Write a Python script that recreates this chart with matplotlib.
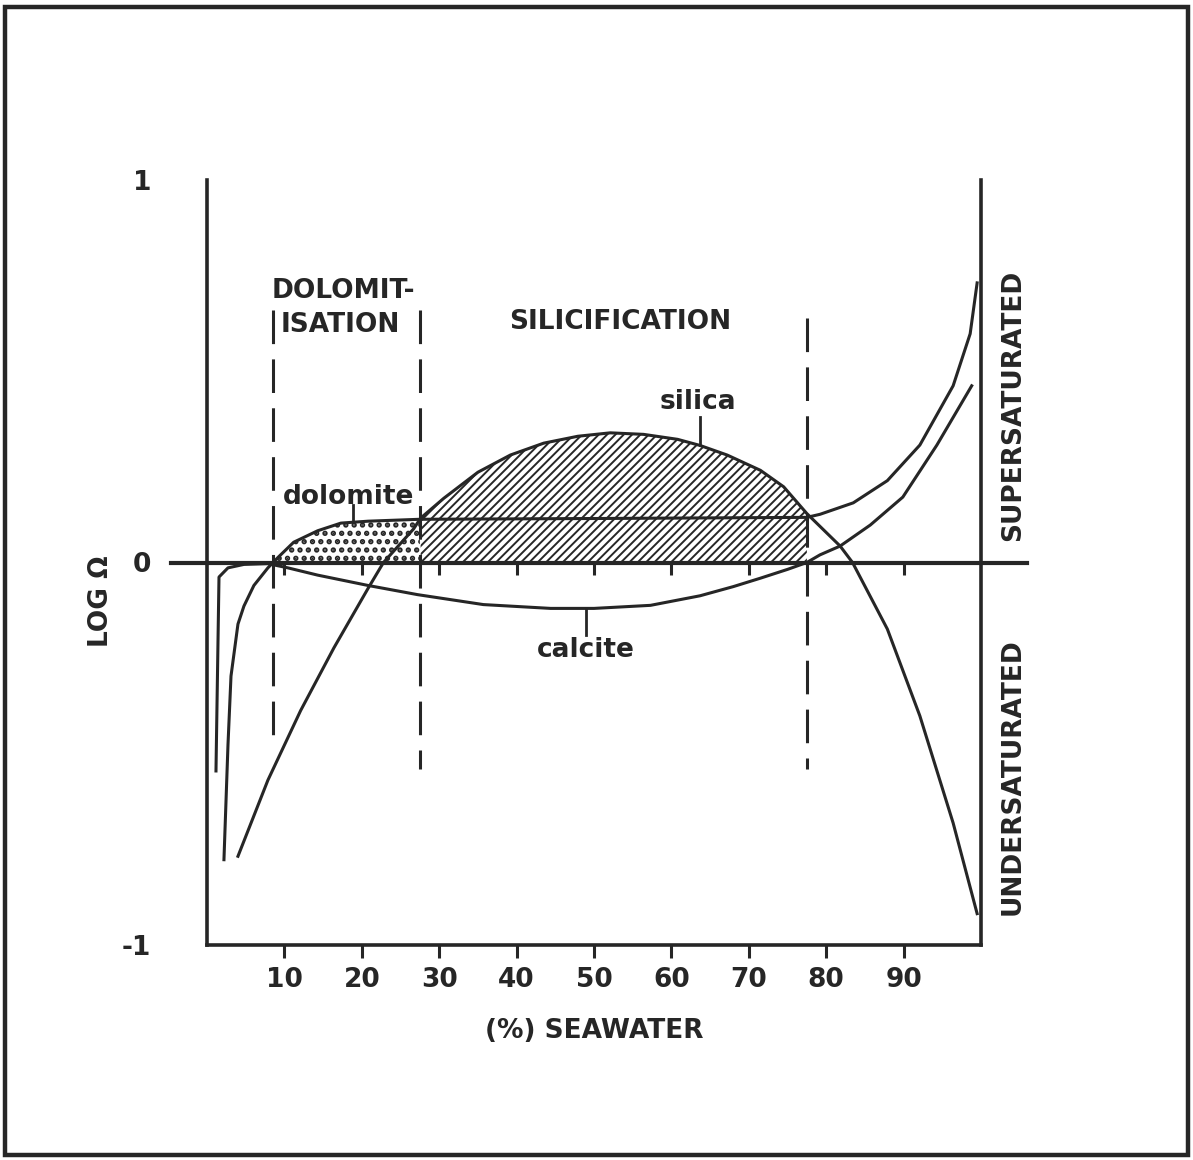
import matplotlib
matplotlib.use("Agg")
import matplotlib.pyplot as plt
from matplotlib.patches import Rectangle
import numpy as np

# values: % seawater vs log omega
calcite_x = [1.16, 1.55, 2.71, 4.77, 7.87, 10.45, 14.3, 20.8, 27.2, 35.7, 44.4, 50.0, 57.3, 63.7,
             68.0, 71.5, 75.0, 77.5, 79.2, 81.8, 85.7, 89.9, 94.3, 98.8]
calcite_y = [-0.545, -0.038, -0.014, -0.005, -0.003, -0.014, -0.033, -0.06, -0.084, -0.11, -0.12,
             -0.12, -0.112, -0.087, -0.063, -0.041, -0.018, 0.0, 0.02, 0.043, 0.098, 0.171, 0.307, 0.462]

dolomite_x = [2.19, 2.71, 3.1, 4.0, 4.77, 6.06, 7.87, 9.16, 11.2, 14.3, 17.3, 20.8, 27.5, 50.0,
              77.5, 79.2, 83.5, 87.9, 92.1, 96.4, 98.6, 99.5]
dolomite_y = [-0.777, -0.477, -0.297, -0.161, -0.114, -0.06, -0.014, 0.013, 0.053, 0.083, 0.103,
              0.108, 0.113, 0.115, 0.118, 0.126, 0.156, 0.214, 0.307, 0.462, 0.598, 0.731]

silica_x = [4.0, 7.87, 12.1, 16.4, 20.8, 22.8, 26.7, 27.6, 30.6, 35.0, 39.2, 43.5, 47.9, 52.1,
            56.4, 60.8, 63.7, 67.2, 71.5, 74.5, 77.5, 81.8, 83.4, 87.9, 92.1, 96.4, 99.5]
silica_y = [-0.768, -0.569, -0.387, -0.223, -0.068, 0.0, 0.088, 0.116, 0.168, 0.236, 0.281, 0.312,
            0.330, 0.339, 0.335, 0.322, 0.306, 0.281, 0.241, 0.198, 0.128, 0.043, 0.0, -0.174,
            -0.401, -0.681, -0.918]

zone_bounds = [8.5, 27.5, 77.5]
x_ticks = [10, 20, 30, 40, 50, 60, 70, 80, 90]

ink = "#262626"
plt.rcParams['font.family'] = ['DejaVu Sans']
plt.rcParams['hatch.linewidth'] = 1.4

fig = plt.figure(figsize=(11.93, 11.60), dpi=100)
ax = fig.add_axes([207/1193, 215/1160, 774/1193, 765/1160])
ax.set_xlim(0, 100)
ax.set_ylim(-1, 1)

# outer frame
fig.patches.append(Rectangle((5/1193, 5/1160), 1183/1193, 1148/1160, transform=fig.transFigure,
                             fill=False, lw=3.2, ec=ink))

# shaded zones: dolomitisation (dots) and silicification (hatch)
dx = np.array(dolomite_x)
dy = np.array(dolomite_y)
m = (dx >= 7.87) & (dx <= 27.5)
dots = ax.fill_between(dx[m], 0, dy[m], where=dy[m] >= 0, interpolate=True, facecolor="white",
                       edgecolor=ink, hatch="..", linewidth=0)
if hasattr(dots, "set_hatch_linewidth"):
    dots.set_hatch_linewidth(2.6)
sx = np.array(silica_x)
sy = np.array(silica_y)
m = (sx >= 27.6) & (sx <= 77.5)
ax.fill_between(sx[m], 0, sy[m], facecolor="white", edgecolor=ink, hatch="////", linewidth=0)

# curves
ax.plot(calcite_x, calcite_y, color=ink, lw=2.2)
ax.plot(dolomite_x, dolomite_y, color=ink, lw=2.2)
ax.plot(silica_x, silica_y, color=ink, lw=2.2)

# zero line with its own small ticks
ax.plot([-4.6, 106], [0, 0], color=ink, lw=3, clip_on=False)
ax.vlines(x_ticks, -0.032, 0, color=ink, lw=2.2)

# dashed zone boundaries
ax.plot([zone_bounds[0]] * 2, [0.66, -0.47], color=ink, lw=2.2, dashes=(11, 5))
ax.plot([zone_bounds[1]] * 2, [0.66, -0.54], color=ink, lw=2.2, dashes=(11, 5))
ax.plot([zone_bounds[2]] * 2, [0.64, -0.54], color=ink, lw=2.2, dashes=(11, 5))

# leader lines for labels
ax.plot([63.7, 63.7], [0.38, 0.306], color=ink, lw=2)
ax.plot([18.8, 18.8], [0.15, 0.105], color=ink, lw=2)
ax.plot([49.0, 49.0], [-0.12, -0.19], color=ink, lw=2)

fs = 19
kw = dict(fontsize=fs, fontweight="bold", color=ink, va="center")
ax.text(8.3, 0.71, "DOLOMIT-", ha="left", **kw)
ax.text(9.5, 0.62, "ISATION", ha="left", **kw)
ax.text(53.4, 0.63, "SILICIFICATION", ha="center", **kw)
ax.text(63.4, 0.42, "silica", ha="center", **kw)
ax.text(18.3, 0.17, "dolomite", ha="center", **kw)
ax.text(48.9, -0.228, "calcite", ha="center", **kw)

ax.text(104.1, 0.41, "SUPERSATURATED", rotation=90, ha="center", clip_on=False, **kw)
ax.text(104.1, -0.56, "UNDERSATURATED", rotation=90, ha="center", clip_on=False, **kw)

# axes styling
ax.spines["top"].set_visible(False)
for side in ["left", "right", "bottom"]:
    ax.spines[side].set_linewidth(2.6)
    ax.spines[side].set_color(ink)

ax.set_xticks(x_ticks)
ax.set_xticklabels([str(t) for t in x_ticks], fontsize=fs, fontweight="bold", color=ink)
ax.tick_params(axis="x", direction="out", length=9, width=2.2, color=ink, pad=7)
ax.set_yticks([-1, 0, 1])
ax.set_yticklabels(["-1", "0", "1"], fontsize=fs, fontweight="bold", color=ink)
ax.tick_params(axis="y", length=0, pad=40)
ax.set_xlabel("(%) SEAWATER", fontsize=fs, fontweight="bold", color=ink, labelpad=18)
ax.set_ylabel("LOG Ω", fontsize=fs, fontweight="bold", color=ink)
ax.yaxis.set_label_coords(-0.12, 0.45)

fig.savefig("out.png", dpi=100, facecolor="white")
